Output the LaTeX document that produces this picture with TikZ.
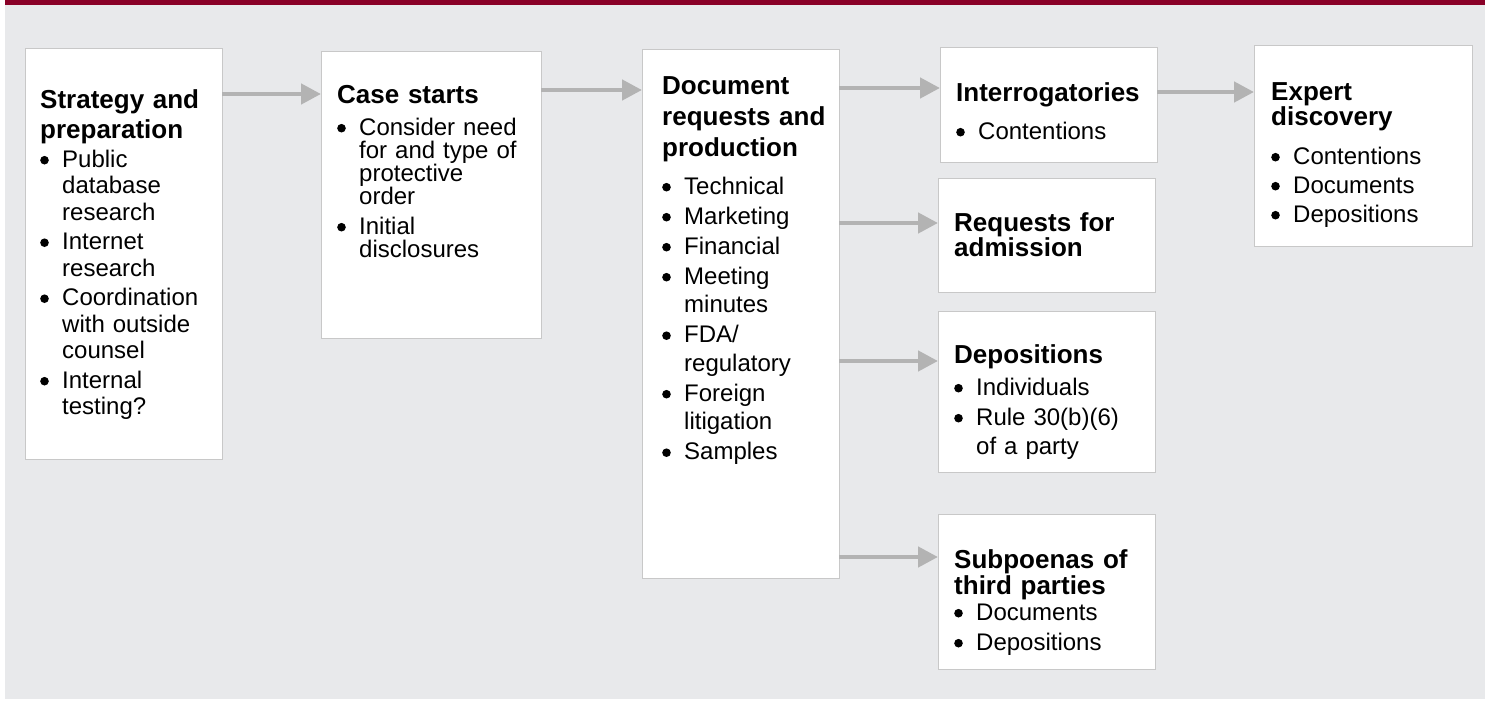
\documentclass[tikz,border=0pt]{standalone}
\usepackage{fontspec}
\setmainfont{Liberation Sans}
\usetikzlibrary{arrows.meta}

\definecolor{barred}{RGB}{137,0,39}
\definecolor{bggray}{RGB}{232,233,235}
\definecolor{edgegray}{RGB}{200,200,200}
\definecolor{arrowgray}{RGB}{179,179,179}

\newcommand{\levels}{
    \coordinate (a1) at (0,94);
    \coordinate (a2) at (0,90);
    \coordinate (a3) at (0,88);
    \coordinate (a4) at (0,223);
    \coordinate (a5) at (0,361);
    \coordinate (a6) at (0,557);
    \coordinate (a7) at (0,92);
}
\newcommand{\dotmark}{\tikz[baseline=0pt]\fill (4.3pt,6.8pt) circle (4.3pt);}
\newcommand{\bul}[1]{\hangindent=22pt\hangafter=1\noindent\hbox to 22pt{\dotmark\hfil}#1\par}
\newcommand{\itmgap}[1]{\setlength{\parskip}{#1pt}}

\tikzset{
    box/.style={draw=edgegray, line width=1pt, fill=white, anchor=north west, inner sep=0pt, outer sep=0pt},
    ttl/.style={font=\fontsize{26}{#1}\selectfont\bfseries, anchor=base west, inner sep=0pt, text width=200pt, align=left},
    lst/.style={font=\fontsize{24}{#1}\selectfont, anchor=base west, inner sep=0pt, text width=200pt, align=left},
    flow/.style={draw=arrowgray, line width=4.5pt, -{Triangle[length=20pt,width=20pt]}}
}

\begin{document}
\begin{tikzpicture}[x=1pt,y=-1pt]
    \useasboundingbox (0,0) rectangle (1491,701);
    \fill[bggray] (5,5) rectangle (1485,699);
    \fill[barred] (5,0) rectangle (1485,5);
    \levels;

    % boxes
    \node[box, minimum width=197, minimum height=410] (strat) at (25,49) {};
    \node[box, minimum width=220, minimum height=286] (case) at (321,52) {};
    \node[box, minimum width=197, minimum height=528] (docs) at (642,50) {};
    \node[box, minimum width=217, minimum height=114] (inter) at (940,48) {};
    \node[box, minimum width=217, minimum height=114] (admit) at (938,178) {};
    \node[box, minimum width=217, minimum height=161] (depo) at (938,311) {};
    \node[box, minimum width=217, minimum height=155] (subp) at (938,514) {};
    \node[box, minimum width=218, minimum height=200] (expert) at (1254,46) {};

    % texts
    \node[ttl=30] (stratT) at (40,108) {Strategy and\\preparation};
    \node[lst=26.5] (stratL) at (40,167) {\itmgap{3}%
        \bul{Public\newline database\newline research}
        \bul{Internet\newline research}
        \bul{Coordination\newline with outside\newline counsel}
        \bul{Internal\newline testing?}};

    \node[ttl=30] (caseT) at (337,103) {Case starts};
    \node[lst=23] (caseL) at (337,135) {\itmgap{7}%
        \bul{Consider need\newline for and type of\newline protective\newline order}
        \bul{Initial\newline disclosures}};

    \node[ttl=31] (docsT) at (662,95) {Document\\requests and\\production};
    \node[lst=28.5] (docsL) at (662,194) {\itmgap{1.5}%
        \bul{Technical}
        \bul{Marketing}
        \bul{Financial}
        \bul{Meeting\newline minutes}
        \bul{FDA/\newline regulatory}
        \bul{Foreign\newline litigation}
        \bul{Samples}};

    \node[ttl=30] (interT) at (956,101) {Interrogatories};
    \node[lst=29] (interL) at (956,139) {\bul{Contentions}};

    \node[ttl=25] (admitT) at (954,231) {Requests for\\admission};

    \node[ttl=30] (depoT) at (954,363) {Depositions};
    \node[lst=29] (depoL) at (954,395) {\itmgap{1}%
        \bul{Individuals}
        \bul{Rule 30(b)(6)\newline of a party}};

    \node[ttl=26] (subpT) at (954,568) {Subpoenas of\\third parties};
    \node[lst=27] (subpL) at (954,620) {\itmgap{3}%
        \bul{Documents}
        \bul{Depositions}};

    \node[ttl=25] (expertT) at (1271,100) {Expert\\discovery};
    \node[lst=26] (expertL) at (1271,164) {\itmgap{3}%
        \bul{Contentions}
        \bul{Documents}
        \bul{Depositions}};

    % connectors
    \draw[flow] (strat.east |- a1) -- (case.west |- a1);
    \draw[flow] (case.east |- a2) -- (docs.west |- a2);
    \draw[flow] (docs.east |- a3) -- (inter.west |- a3);
    \draw[flow] (docs.east |- a4) -- (admit.west |- a4);
    \draw[flow] (docs.east |- a5) -- (depo.west |- a5);
    \draw[flow] (docs.east |- a6) -- (subp.west |- a6);
    \draw[flow] (inter.east |- a7) -- (expert.west |- a7);
\end{tikzpicture}
\end{document}
